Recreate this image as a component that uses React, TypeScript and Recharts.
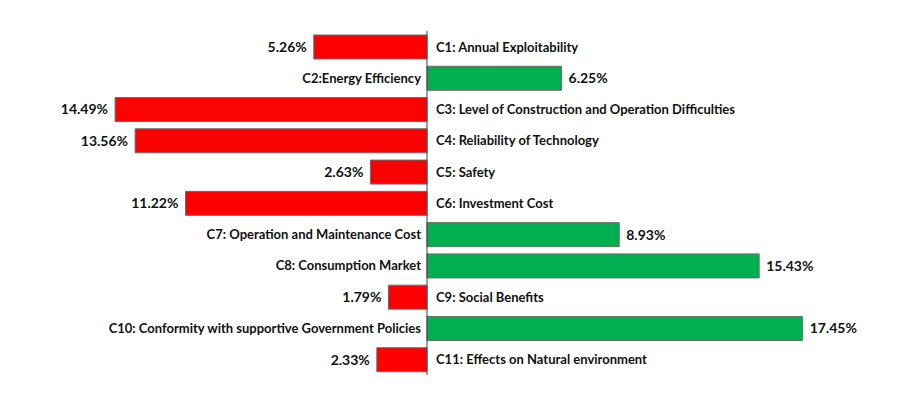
import { BarChart, Bar, XAxis, YAxis, Cell, LabelList, ReferenceLine } from "recharts";

const criteria = [
  "C1: Annual Exploitability",
  "C2:Energy Efficiency",
  "C3: Level of Construction and Operation Difficulties",
  "C4: Reliability of Technology",
  "C5: Safety",
  "C6: Investment Cost",
  "C7: Operation and Maintenance Cost",
  "C8: Consumption Market",
  "C9: Social Benefits",
  "C10: Conformity with supportive Government Policies",
  "C11: Effects on Natural environment",
];

// signed weights (%): negative drawn in red to the left, positive in green to the right
const weights = [-5.26, 6.25, -14.49, -13.56, -2.63, -11.22, 8.93, 15.43, -1.79, 17.45, -2.33];

const RED = "#FF0000";
const GREEN = "#00B050";
const FONT = "Lato, 'Liberation Sans', sans-serif";

const data = criteria.map((name, i) => ({ name, value: weights[i] }));

function edges(x: number, width: number) {
  return { left: Math.min(x, x + width), right: Math.max(x, x + width) };
}

function NameLabel(props: any) {
  const { x, y, width, height, index } = props;
  const { left, right } = edges(Number(x), Number(width));
  const v = weights[index];
  const cy = Number(y) + Number(height) / 2;
  // name sits on the opposite side of the axis from its bar
  const tx = v < 0 ? right + 9 : left - 6;
  return (
    <text
      x={tx}
      y={cy}
      dy="0.35em"
      textAnchor={v < 0 ? "start" : "end"}
      fontFamily={FONT}
      fontWeight={700}
      fontSize={13}
      fill="#111"
    >
      {criteria[index]}
    </text>
  );
}

function ValueLabel(props: any) {
  const { x, y, width, height, index } = props;
  const { left, right } = edges(Number(x), Number(width));
  const v = weights[index];
  const cy = Number(y) + Number(height) / 2;
  const tx = v < 0 ? left - 7 : right + 7;
  return (
    <text
      x={tx}
      y={cy}
      dy="0.35em"
      textAnchor={v < 0 ? "end" : "start"}
      fontFamily={FONT}
      fontWeight={700}
      fontSize={14}
      fill="#111"
    >
      {Math.abs(v).toFixed(2)}%
    </text>
  );
}

export default function App() {
  return (
    <div style={{ width: 900, height: 383, background: "#fff" }}>
      <BarChart
        width={900}
        height={383}
        data={data}
        layout="vertical"
        margin={{ top: 23, right: 72, bottom: 16, left: 10 }}
        barSize={24}
      >
        <XAxis type="number" domain={[-19, 19]} hide />
        <YAxis type="category" dataKey="name" hide />
        <Bar dataKey="value" stroke="#6b6b6b" strokeWidth={1} isAnimationActive={false}>
          {data.map((d) => (
            <Cell key={d.name} fill={d.value < 0 ? RED : GREEN} />
          ))}
          <LabelList dataKey="name" content={NameLabel} />
          <LabelList dataKey="value" content={ValueLabel} />
        </Bar>
        <ReferenceLine x={0} stroke="#404040" strokeWidth={1} ifOverflow="extendDomain" />
      </BarChart>
    </div>
  );
}
